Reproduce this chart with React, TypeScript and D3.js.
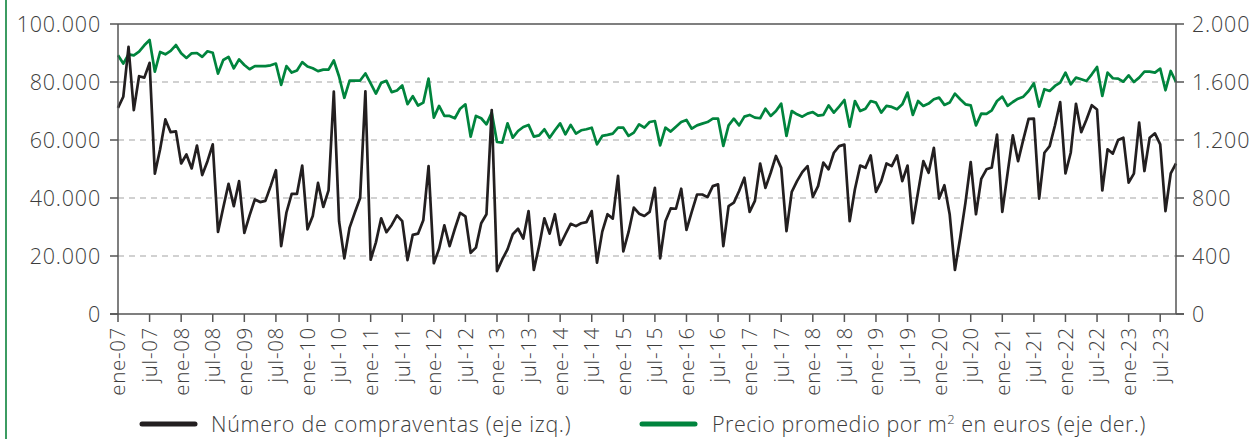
import React, { useEffect } from 'react';
import * as d3 from 'd3';

// número de compraventas (eje izq.), ene-07 .. oct-23
const compraventas = [
  71100, 74900, 92100, 70300, 82000, 81500, 86600, 48400, 56800, 67100, 62700, 63000,
  51900, 55000, 50200, 58100, 47900, 52700, 58500, 28300, 36700, 44900, 37200, 45800,
  28000, 34000, 39500, 38600, 39000, 44100, 49600, 23400, 35000, 41400, 41400, 51200,
  29200, 33800, 45200, 36900, 42600, 76700, 32000, 19200, 29800, 35000, 40000, 76800,
  18700, 24700, 33000, 28200, 30700, 34000, 32000, 18600, 27300, 27700, 32300, 51000,
  17500, 22500, 30600, 23400, 29400, 34900, 33700, 21100, 22900, 31300, 34400, 70300,
  14800, 18800, 22300, 27500, 29400, 26000, 35500, 15200, 23400, 33000, 27700, 34400,
  23800, 27500, 31100, 30300, 31300, 31700, 35500, 17700, 28400, 34400, 32900, 47600,
  21600, 28300, 36700, 34600, 33800, 35200, 43500, 19200, 32000, 36400, 36300, 43200,
  29000, 35200, 41200, 41200, 40300, 44100, 44700, 23400, 37200, 38400, 42400, 47000,
  35200, 39000, 51900, 43500, 48700, 54500, 50400, 28600, 42100, 45800, 48900, 51000,
  40400, 44100, 52200, 49900, 55600, 57900, 58400, 32000, 43000, 51200, 50400, 54700,
  42100, 45800, 51900, 51000, 54700, 45800, 51200, 31300, 42100, 52700, 48700, 57300,
  39800, 44400, 34400, 15200, 26300, 38400, 52400, 34400, 46600, 49900, 50500, 61900,
  35200, 48500, 61600, 52700, 60200, 67300, 67400, 39800, 55600, 57900, 65000, 73100,
  48500, 55600, 72500, 62700, 67100, 72000, 70500, 42600, 56800, 55300, 60000, 60800,
  45300, 48400, 66000, 49300, 60800, 62300, 58500, 35500, 48500, 51900,
];

// precio promedio por m2 (eje der.)
const precioM2 = [
  1784, 1727, 1791, 1784, 1809, 1853, 1890, 1671, 1807, 1791, 1814, 1855,
  1798, 1766, 1798, 1800, 1773, 1812, 1802, 1658, 1752, 1773, 1694, 1756,
  1717, 1688, 1710, 1710, 1710, 1715, 1727, 1580, 1710, 1665, 1680, 1737,
  1707, 1695, 1675, 1685, 1685, 1748, 1638, 1491, 1610, 1610, 1610, 1659,
  1591, 1520, 1594, 1608, 1530, 1541, 1576, 1447, 1502, 1438, 1458, 1623,
  1354, 1435, 1366, 1366, 1350, 1416, 1446, 1223, 1366, 1350, 1308, 1389,
  1186, 1182, 1315, 1216, 1262, 1290, 1304, 1223, 1232, 1274, 1216, 1267,
  1315, 1239, 1304, 1244, 1267, 1274, 1285, 1170, 1228, 1235, 1244, 1285,
  1285, 1228, 1251, 1308, 1285, 1324, 1331, 1163, 1285, 1258, 1292, 1324,
  1338, 1278, 1301, 1313, 1324, 1347, 1347, 1159, 1301, 1347, 1301, 1361,
  1373, 1354, 1350, 1416, 1366, 1400, 1451, 1228, 1400, 1377, 1361, 1382,
  1393, 1368, 1373, 1439, 1389, 1430, 1476, 1292, 1469, 1400, 1416, 1469,
  1458, 1389, 1435, 1428, 1412, 1446, 1527, 1373, 1469, 1435, 1451, 1481,
  1492, 1442, 1458, 1520, 1481, 1446, 1439, 1301, 1382, 1380, 1405, 1469,
  1499, 1435, 1462, 1485, 1499, 1538, 1591, 1430, 1550, 1538, 1573, 1596,
  1665, 1584, 1630, 1619, 1607, 1653, 1704, 1504, 1665, 1626, 1623, 1602,
  1646, 1600, 1630, 1671, 1671, 1665, 1692, 1543, 1676, 1600,
];

// etiquetas del eje x (una cada 6 meses, tal como aparecen)
const etiquetasX = [
  'ene-07', 'jul-07', 'ene-08', 'jul-08', 'ene-09', 'jul-08', 'ene-10', 'jul-10',
  'ene-11', 'jul-11', 'ene-12', 'jul-12', 'ene-13', 'jul-13', 'ene-14', 'jul-14',
  'ene-15', 'jul-15', 'ene-16', 'jul-16', 'ene-17', 'jul-17', 'ene-18', 'jul-18',
  'ene-19', 'jul-19', 'ene-20', 'jul-20', 'ene-21', 'jul-21', 'ene-22', 'jul-22',
  'ene-23', 'jul-23',
];

const ticksIzq = [0, 20000, 40000, 60000, 80000, 100000];
const ticksDer = [0, 400, 800, 1200, 1600, 2000];

const width = 1252;
const height = 439;
const margin = { top: 24, right: 76, bottom: 125, left: 118 };
const FONT = "'Open Sans', Lato, sans-serif";
const TEXT = '#3d3d3d';
const AXIS = '#555555';
const NEGRO = '#231f20';
const VERDE = '#00843d';

const fmt = (v: number) => d3.format(',')(v).replace(/,/g, '.');

const App = () => {
  useEffect(() => {
    document.body.style.margin = '0';
  }, []);

  const meses = compraventas.map((_, i) => i);
  const x = d3
    .scalePoint<number>()
    .domain(meses)
    .range([margin.left, width - margin.right]);
  const yIzq = d3.scaleLinear().domain([0, 100000]).range([height - margin.bottom, margin.top]);
  const yDer = d3.scaleLinear().domain([0, 2000]).range([height - margin.bottom, margin.top]);

  const lineaIzq = d3
    .line<number>()
    .x((_, i) => x(i)!)
    .y((d) => yIzq(d));
  const lineaDer = d3
    .line<number>()
    .x((_, i) => x(i)!)
    .y((d) => yDer(d));

  const x0 = margin.left;
  const x1 = width - margin.right;
  const y0 = height - margin.bottom;
  const yLeyenda = 424;

  return (
    <svg width={width} height={height} style={{ display: 'block', fontFamily: FONT, fontWeight: 300 }}>
      <rect x={0} y={0} width={width} height={height} fill="#fff" />
      <rect x={5} y={0} width={2} height={height} fill="#3c9c62" />

      {/* rejilla */}
      {ticksIzq.slice(1, -1).map((t) => (
        <line key={t} x1={x0} x2={x1} y1={yIzq(t)} y2={yIzq(t)} stroke="#a3a3a3" strokeWidth={1.2} strokeDasharray="6,5" />
      ))}

      {/* series */}
      <path d={lineaDer(precioM2) || ''} fill="none" stroke={VERDE} strokeWidth={2.7} strokeLinejoin="round" />
      <path d={lineaIzq(compraventas) || ''} fill="none" stroke={NEGRO} strokeWidth={2.7} strokeLinejoin="round" />

      {/* marco y ejes */}
      <line x1={x0} x2={x1} y1={margin.top} y2={margin.top} stroke={AXIS} strokeWidth={1.5} />
      <line x1={x0} x2={x0} y1={margin.top} y2={y0} stroke={AXIS} strokeWidth={1.5} />
      <line x1={x1} x2={x1} y1={margin.top} y2={y0} stroke={AXIS} strokeWidth={1.5} />
      <line x1={x0 - 8} x2={x1 + 8} y1={y0} y2={y0} stroke={AXIS} strokeWidth={1.5} />

      {ticksIzq.map((t) => (
        <g key={'l' + t}>
          <line x1={x0 - 8} x2={x0} y1={yIzq(t)} y2={yIzq(t)} stroke={AXIS} strokeWidth={1.5} />
          <text x={x0 - 17} y={yIzq(t)} dy="0.36em" textAnchor="end" fontSize={21.5} letterSpacing={0.8} fill={TEXT}>
            {fmt(t)}
          </text>
        </g>
      ))}
      {ticksDer.map((t) => (
        <g key={'r' + t}>
          <line x1={x1} x2={x1 + 8} y1={yDer(t)} y2={yDer(t)} stroke={AXIS} strokeWidth={1.5} />
          <text x={x1 + 16} y={yDer(t)} dy="0.36em" textAnchor="start" fontSize={21.5} letterSpacing={0.8} fill={TEXT}>
            {fmt(t)}
          </text>
        </g>
      ))}

      {etiquetasX.map((lab, k) => {
        const px = x(k * 6)!;
        return (
          <g key={'x' + k}>
            <line x1={px} x2={px} y1={y0} y2={y0 + 8} stroke={AXIS} strokeWidth={1.5} />
            <text
              transform={`translate(${px},${y0 + 13}) rotate(-90)`}
              dy="0.36em"
              textAnchor="end"
              fontSize={20.5}
              letterSpacing={0.7}
              fill={TEXT}
            >
              {lab}
            </text>
          </g>
        );
      })}

      {/* leyenda */}
      <line x1={142} x2={195} y1={yLeyenda} y2={yLeyenda} stroke={NEGRO} strokeWidth={5} strokeLinecap="round" />
      <text x={211} y={yLeyenda + 7.5} fontSize={21.5} letterSpacing={0.7} fill={TEXT}>
        Número de compraventas (eje izq.)
      </text>
      <line x1={642} x2={695} y1={yLeyenda} y2={yLeyenda} stroke={VERDE} strokeWidth={5} strokeLinecap="round" />
      <text x={712} y={yLeyenda + 7.5} fontSize={21.5} letterSpacing={0.5} fill={TEXT}>
        Precio promedio por m<tspan dy={-8} fontSize={13}>2</tspan>
        <tspan dy={8}>{' en euros (eje der.)'}</tspan>
      </text>
    </svg>
  );
};

export default App;
